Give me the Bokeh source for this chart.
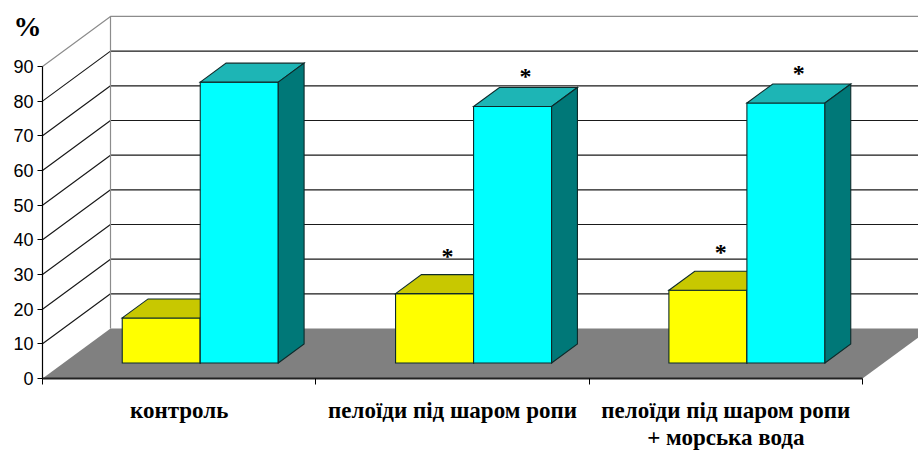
from bokeh.plotting import figure
from bokeh.models import FixedTicker, LinearAxis, Range1d
from bokeh.embed import file_html
from bokeh.resources import INLINE
from bokeh.core.properties import value

# ---------------- data ----------------
categories = [
    "контроль",
    "пелоїди під шаром ропи",
    "пелоїди під шаром ропи\n+ морська вода",
]
series_yellow = [13, 20, 21]
series_cyan = [81, 74, 75]
star_yellow = [False, True, True]
star_cyan = [False, True, True]
y_ticks = [0, 10, 20, 30, 40, 50, 60, 70, 80, 90]
unit_label = "%"

# ---------------- geometry / style ----------------
W, H = 918, 452
AXIS_PX, BASE_PX = 42, 74          # value axis distance from left, base line distance from bottom
PX_PER_CAT = 273.33
PX_PER_UNIT = 3.467
X_START = -AXIS_PX / PX_PER_CAT
X_END = (W - AXIS_PX) / PX_PER_CAT
Y_START = -BASE_PX / PX_PER_UNIT
Y_END = (H - BASE_PX) / PX_PER_UNIT
DX = 68 / PX_PER_CAT      # depth offset in x (category units) for full depth
DY = 50 / PX_PER_UNIT     # depth offset in y (value units) for full depth
D0, D1 = 0.31, 0.69       # bar depth span
BAR_W = 0.2854
N = len(categories)
Y_MAX = y_ticks[-1]


def proj(u, v, d):
    return u + DX * d, v + DY * d


p = figure(width=W, height=H, x_range=Range1d(X_START, X_END), y_range=Range1d(Y_START, Y_END),
           output_backend="svg", toolbar_location=None,
           x_axis_type=None, y_axis_type=None,
           min_border_left=0, min_border_right=0, min_border_top=0, min_border_bottom=0)
p.outline_line_color = None
p.grid.visible = False
p.background_fill_color = "white"
p.border_fill_color = "white"

# floor
fl = [proj(0, 0, 0), proj(N, 0, 0), proj(N, 0, 1), proj(0, 0, 1)]
p.patch([q[0] for q in fl], [q[1] for q in fl], fill_color="#808080", line_color=None)

# back-wall and side-wall grid lines
blk_xs, blk_ys, gr_xs, gr_ys = [], [], [], []
for v in y_ticks[1:]:
    a = proj(0, v, 0)
    b = proj(0, v, 1)
    c = (X_END, b[1])
    xs1, ys1 = [a[0], b[0], c[0]], [a[1], b[1], c[1]]
    if v == Y_MAX:
        gr_xs.append(xs1); gr_ys.append(ys1)
    else:
        blk_xs.append(xs1); blk_ys.append(ys1)
e0, e1 = proj(0, 0, 1), proj(0, Y_MAX, 1)
gr_xs.append([e0[0], e1[0]]); gr_ys.append([e0[1], e1[1]])
p.multi_line(blk_xs, blk_ys, line_color="#1a1a1a", line_width=1.2)
p.multi_line(gr_xs, gr_ys, line_color="#8c8c8c", line_width=1.2)

# bars
xs, ys, cols = [], [], []


def add_bar(u0, u1, v, front, top, side):
    faces = [
        ([(u0, 0, D0), (u1, 0, D0), (u1, v, D0), (u0, v, D0)], front),
        ([(u0, v, D0), (u1, v, D0), (u1, v, D1), (u0, v, D1)], top),
        ([(u1, 0, D0), (u1, 0, D1), (u1, v, D1), (u1, v, D0)], side),
    ]
    for pts, col in faces:
        pr = [proj(*q) for q in pts]
        xs.append([q[0] for q in pr]); ys.append([q[1] for q in pr]); cols.append(col)


for i in range(N):
    c = i + 0.5
    add_bar(c - BAR_W, c, series_yellow[i], "#FFFF00", "#C8C800", "#808000")
    add_bar(c, c + BAR_W, series_cyan[i], "#00FFFF", "#1DB5B5", "#007878")
p.patches(xs, ys, fill_color=cols, line_color="#0d2a2a", line_width=1.1, line_join="miter")

# significance asterisks
for vals, stars, off, yoff in ((series_yellow, star_yellow, -BAR_W / 2, -19),
                                (series_cyan, star_cyan, BAR_W / 2, -11)):
    sx, sy = [], []
    for i in range(N):
        if stars[i]:
            q = proj(i + 0.5 + off, vals[i], (D0 + D1) / 2)
            sx.append(q[0]); sy.append(vals[i] + DY * D1)
    p.text(sx, sy, text=["*"] * len(sx), text_font=value("Liberation Serif"),
           text_font_style="bold", text_font_size="24px", text_align="center",
           text_baseline="middle", y_offset=yoff, text_color="black")

# unit label "%" above the value axis
p.text([0], [Y_MAX], text=[unit_label], text_font=value("Liberation Serif"),
       text_font_style="bold", text_font_size="28px", text_align="center",
       text_baseline="middle", x_offset=-15, y_offset=-40, text_color="black")

# axes
yaxis = LinearAxis(ticker=FixedTicker(ticks=y_ticks), bounds=(0, Y_MAX), fixed_location=0)
yaxis.major_tick_out = 5
yaxis.major_tick_in = 0
yaxis.minor_tick_line_color = None
yaxis.major_label_standoff = 4
yaxis.major_label_text_font = "Liberation Sans"
yaxis.major_label_text_font_size = "18px"
yaxis.major_label_text_color = "black"
yaxis.axis_line_color = "black"
yaxis.axis_line_width = 1.2
p.add_layout(yaxis, "left")

centers = [i + 0.5 for i in range(N)]
xaxis = LinearAxis(ticker=FixedTicker(ticks=centers, minor_ticks=list(range(N + 1))),
                   bounds=(0, N), fixed_location=0)
xaxis.major_label_overrides = {c: lab for c, lab in zip(centers, categories)}
xaxis.major_tick_line_color = None
xaxis.minor_tick_out = 6
xaxis.minor_tick_in = 0
xaxis.minor_tick_line_color = "black"
xaxis.axis_line_color = "#222222"
xaxis.axis_line_width = 2
xaxis.major_label_standoff = 13
xaxis.major_label_text_font = "Liberation Serif"
xaxis.major_label_text_font_style = "bold"
xaxis.major_label_text_font_size = "23px"
xaxis.major_label_text_color = "black"
xaxis.major_label_text_line_height = 1.1
p.add_layout(xaxis, "below")

open("out.html", "w").write(file_html(p, INLINE))
